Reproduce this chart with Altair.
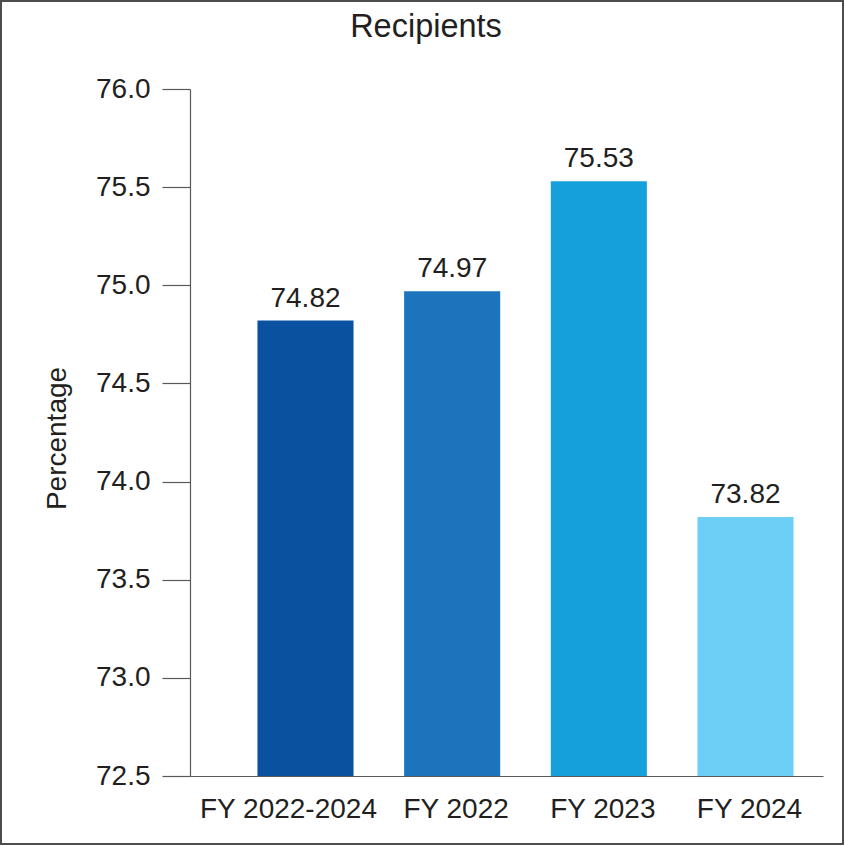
import altair as alt
import pandas as pd

categories = ["FY 2022-2024", "FY 2022", "FY 2023", "FY 2024"]
values = [74.82, 74.97, 75.53, 73.82]
colors = ["#0a52a0", "#1c75bc", "#15a0dc", "#6dcff6"]
y_ticks = [72.5, 73.0, 73.5, 74.0, 74.5, 75.0, 75.5, 76.0]

df = pd.DataFrame({"cat": categories, "val": values})

FONT = "Liberation Sans"
TXT = "#231f20"
AX = "#58595b"

xenc = alt.X("cat:N", sort=categories,
             scale=alt.Scale(paddingInner=0.345, paddingOuter=0.3304, align=0.696),
             axis=alt.Axis(title=None, labelAngle=0, ticks=False, labelPadding=19,
                           labelFontSize=28, labelFont=FONT, labelColor=TXT,
                           labelOffset={"condition": {"test": "datum.value == 'FY 2022-2024'",
                                                      "value": -17}, "value": 4},
                           domainColor=AX, domainWidth=1.2))
yenc = alt.Y("val:Q",
             scale=alt.Scale(domain=[72.5, 76.0], zero=False, nice=False),
             axis=alt.Axis(title=None, values=y_ticks, format=".1f", grid=False,
                           tickSize=28, tickColor=AX, tickWidth=1.2,
                           domainColor=AX, domainWidth=1.2, labelPadding=12,
                           labelFontSize=28, labelFont=FONT, labelColor=TXT))

base = alt.Chart(df)

bars = base.mark_bar().encode(
    x=xenc, y=yenc, y2=alt.datum(72.5),
    color=alt.Color("cat:N", sort=categories,
                    scale=alt.Scale(domain=categories, range=colors), legend=None),
)

labels = base.mark_text(baseline="alphabetic", dy=-14, fontSize=28, font=FONT, color=TXT).encode(
    x=alt.X("cat:N", sort=categories), y="val:Q", text=alt.Text("val:Q", format=".2f")
)

one = alt.Data(values=[{"t": "Recipients"}])

title = alt.Chart(one).mark_text(baseline="alphabetic", align="center", fontSize=32.5,
                                 font=FONT, color=TXT).encode(
    x=alt.value(236), y=alt.value(-52), text=alt.value("Recipients"))

ytitle = alt.Chart(one).mark_text(baseline="alphabetic", align="center", angle=270,
                                  fontSize=28, font=FONT, color=TXT).encode(
    x=alt.value(-124), y=alt.value(349.5), text=alt.value("Percentage"))

border = alt.Chart(one).mark_rect(fillOpacity=0, stroke="#4d4d4d", strokeWidth=2).encode(
    x=alt.value(-189), x2=alt.value(653), y=alt.value(-88), y2=alt.value(755))

chart = alt.layer(bars, labels, title, ytitle, border).properties(
    width=633, height=687,
    padding={"left": 190, "top": 89, "right": 22, "bottom": 70},
    autosize=alt.AutoSizeParams(type="none"),
    background="white",
).configure_view(stroke=None)

chart.save("out.html", embed_options={"renderer": "svg", "actions": False})
